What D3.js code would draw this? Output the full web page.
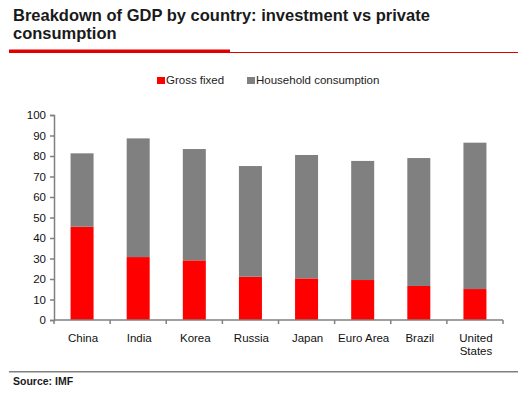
<!DOCTYPE html>
<html>
<head>
<meta charset="utf-8">
<script src="https://cdn.jsdelivr.net/npm/d3@7"></script>
<style>
  body { margin: 0; background: #fff; }
  svg { display: block; font-family: "Liberation Sans", Arial, sans-serif; }
</style>
</head>
<body>
<svg width="531" height="396"></svg>
<script>
var countries = ['China', 'India', 'Korea', 'Russia', 'Japan', 'Euro Area', 'Brazil', 'United States'];
var grossFixed = [45.5, 30.7, 29.1, 21.1, 20.3, 19.5, 16.6, 15.1];
var household = [35.8, 57.9, 54.3, 54.0, 60.2, 58.1, 62.4, 71.4];
var yTicks = [0, 10, 20, 30, 40, 50, 60, 70, 80, 90, 100];
var seriesNames = ['Gross fixed', 'Household consumption'];
var colors = ['#ff0000', '#808080'];

var svg = d3.select('svg');

// title + rules
svg.append('text').attr('x', 13).attr('y', 21)
  .style('font-size', '16.5px').style('font-weight', 'bold').attr('fill', '#1a1a1a')
  .text('Breakdown of GDP by country: investment vs private');
svg.append('text').attr('x', 13).attr('y', 39)
  .style('font-size', '16.5px').style('font-weight', 'bold').attr('fill', '#1a1a1a')
  .text('consumption');
svg.append('rect').attr('x', 9).attr('y', 49.5).attr('width', 221).attr('height', 3.5).attr('fill', '#e00000');
svg.append('rect').attr('x', 230).attr('y', 52).attr('width', 288).attr('height', 1).attr('fill', '#e00000');

// legend
var legendX = [157, 247];
seriesNames.forEach(function(name, i) {
  svg.append('rect').attr('x', legendX[i]).attr('y', 77).attr('width', 8).attr('height', 7).attr('fill', colors[i]);
  svg.append('text').attr('x', legendX[i] + 9).attr('y', 84)
    .style('font-size', '11.5px').attr('fill', '#222').text(name);
});

var margin = {left: 54, right: 503, top: 115, bottom: 320};
var x = d3.scaleBand().domain(countries).range([margin.left, margin.right]);
var y = d3.scaleLinear().domain([0, 100]).range([margin.bottom, margin.top]);
var barW = 23;

var rows = countries.map(function(c, i) {
  return {country: c, gross: grossFixed[i], household: household[i]};
});
var stack = d3.stack().keys(['gross', 'household'])(rows);

svg.append('g').selectAll('g').data(stack).join('g')
  .attr('fill', function(d, i) { return colors[i]; })
  .selectAll('rect').data(function(d) { return d; }).join('rect')
  .attr('x', function(d) { return x(d.data.country) + x.bandwidth() / 2 - barW / 2; })
  .attr('width', barW)
  .attr('y', function(d) { return y(d[1]); })
  .attr('height', function(d) { return y(d[0]) - y(d[1]); });

// y axis
var yAxis = svg.append('g').attr('transform', 'translate(' + margin.left + ',0)')
  .call(d3.axisLeft(y).tickValues(yTicks).tickSize(4).tickPadding(4));
yAxis.select('.domain').attr('stroke', '#808080').attr('stroke-width', 1.5);
yAxis.selectAll('.tick line').attr('stroke', '#808080').attr('stroke-width', 1.5);
yAxis.selectAll('.tick text').style('font-size', '11.5px').attr('fill', '#111')
  .style('font-family', '"Liberation Sans", Arial, sans-serif');

// x axis: ticks at category boundaries
var bounds = countries.map(function(c) { return x(c); }).concat([margin.right]);
svg.append('line').attr('x1', margin.left).attr('x2', margin.right)
  .attr('y1', margin.bottom).attr('y2', margin.bottom)
  .attr('stroke', '#808080').attr('stroke-width', 1.5);
svg.append('g').selectAll('line').data(bounds).join('line')
  .attr('x1', function(d) { return d; }).attr('x2', function(d) { return d; })
  .attr('y1', margin.bottom).attr('y2', margin.bottom + 4)
  .attr('stroke', '#808080').attr('stroke-width', 1.5);

var labels = svg.append('g').selectAll('text').data(countries).join('text')
  .attr('x', function(d) { return x(d) + x.bandwidth() / 2 + 1; })
  .attr('y', 341.5)
  .attr('text-anchor', 'middle')
  .style('font-size', '11.5px').attr('fill', '#111');
labels.each(function(d) {
  var words = d === 'United States' ? ['United', 'States'] : [d];
  var t = d3.select(this);
  words.forEach(function(w, i) {
    t.append('tspan').attr('x', t.attr('x')).attr('dy', i ? 13 : 0).text(w);
  });
});

// footer
svg.append('rect').attr('x', 9).attr('y', 371).attr('width', 509).attr('height', 1.5).attr('fill', '#808080');
svg.append('text').attr('x', 13).attr('y', 385)
  .style('font-size', '10.5px').style('font-weight', 'bold').attr('fill', '#1a1a1a')
  .text('Source: IMF');
</script>
</body>
</html>
